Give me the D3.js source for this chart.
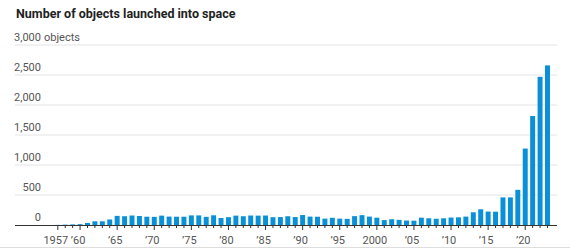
<!DOCTYPE html>
<html>
<head>
<meta charset="utf-8">
<script src="https://cdn.jsdelivr.net/npm/d3@7"></script>
<style>
  body { margin: 0; background: #fff; }
  svg { display: block; }
</style>
</head>
<body>
<div id="chart"></div>
<script>
// objects launched into space per year
var years = d3.range(1957, 2024);
var launches = [
  2, 6, 10, 14, 34, 62, 62, 92,            // 1957-64
  152, 146, 158, 150, 138, 136, 156, 140,  // 1965-72
  138, 138, 160, 160, 136, 162, 116, 130,  // 1973-80
  156, 146, 158, 156, 158, 130, 132, 146,  // 1981-88
  132, 166, 140, 138, 106, 120, 106, 102,  // 1989-96
  148, 164, 140, 122, 82, 96, 86, 74,      // 1997-2004
  72, 122, 112, 104, 112, 124, 128, 140,   // 2005-12
  212, 262, 224, 222, 460, 460, 586, 1274, // 2013-20
  1816, 2470, 2660                         // 2021-23
];
var yTicks = [0, 500, 1000, 1500, 2000, 2500, 3000];
var xLabels = {1957: "1957", 1960: "\u201960", 1965: "\u201965", 1970: "\u201970",
  1975: "\u201975", 1980: "\u201980", 1985: "\u201985", 1990: "\u201990",
  1995: "\u201995", 2000: "2000", 2005: "\u201905", 2010: "\u201910",
  2015: "\u201915", 2020: "\u201920"};

var width = 570, height = 248;

var svg = d3.select("#chart").append("svg")
  .attr("width", width)
  .attr("height", height)
  .style("font-family", "Roboto, 'Noto Sans', sans-serif");

// title
svg.append("text")
  .attr("x", 16)
  .attr("y", 18)
  .style("font-size", "12.5px")
  .style("font-weight", "bold")
  .style("fill", "#222")
  .text("Number of objects launched into space");

var x = d3.scaleBand()
  .domain(years)
  .range([54.1, 551.2])
  .paddingInner(0.33)
  .paddingOuter(0.165);

var y = d3.scaleLinear()
  .domain([0, 3000])
  .range([225, 45]);

// gridlines
svg.append("g")
  .selectAll("line")
  .data(yTicks.filter(d => d > 0))
  .enter()
  .append("line")
  .attr("x1", 15)
  .attr("x2", 557)
  .attr("y1", d => y(d))
  .attr("y2", d => y(d))
  .style("stroke", "#e4e4e4")
  .style("stroke-width", 1);

// y labels
var yl = svg.append("g")
  .style("font-size", "11px")
  .style("fill", "#555");

yl.selectAll("text")
  .data(yTicks)
  .enter()
  .append("text")
  .attr("x", 41)
  .attr("y", d => y(d) - 4)
  .attr("text-anchor", "end")
  .text(d => d3.format(",")(d));

yl.append("text")
  .attr("x", 44)
  .attr("y", y(3000) - 4)
  .text("objects");

// bars
svg.append("g")
  .selectAll("rect")
  .data(years)
  .enter()
  .append("rect")
  .attr("x", d => x(d))
  .attr("width", x.bandwidth())
  .attr("y", (d, i) => y(launches[i]))
  .attr("height", (d, i) => y(0) - y(launches[i]))
  .style("fill", "#0a90d8");

// baseline
svg.append("line")
  .attr("x1", 15)
  .attr("x2", 557)
  .attr("y1", y(0) + 0.5)
  .attr("y2", y(0) + 0.5)
  .style("stroke", "#333")
  .style("stroke-width", 1);

// ticks
svg.append("g")
  .selectAll("line")
  .data(years)
  .enter()
  .append("line")
  .attr("x1", d => x(d) + x.bandwidth() / 2)
  .attr("x2", d => x(d) + x.bandwidth() / 2)
  .attr("y1", y(0) + 1)
  .attr("y2", d => y(0) + (xLabels[d] ? 5 : 3))
  .style("stroke", "#333")
  .style("stroke-width", 1);

// x labels
svg.append("g")
  .style("font-size", "11px")
  .style("fill", "#555")
  .selectAll("text")
  .data(years.filter(d => xLabels[d]))
  .enter()
  .append("text")
  .attr("x", d => x(d) + x.bandwidth() / 2 - 2)
  .attr("y", 244)
  .attr("text-anchor", "middle")
  .text(d => xLabels[d]);

// bottom rule
svg.append("line")
  .attr("x1", 0)
  .attr("x2", width)
  .attr("y1", 247.5)
  .attr("y2", 247.5)
  .style("stroke", "#ddd");
</script>
</body>
</html>
